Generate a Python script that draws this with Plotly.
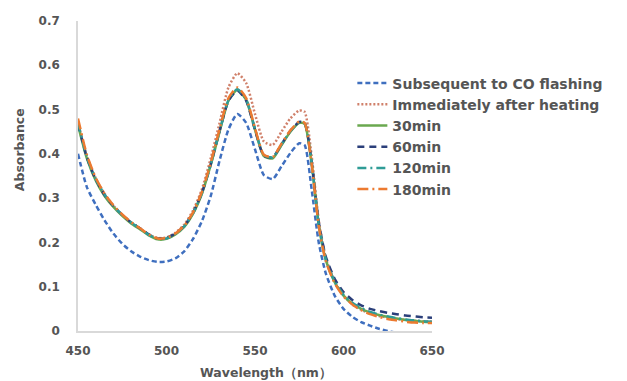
import plotly.graph_objects as go

# Wavelength grid (nm)
wavelength = [450, 455, 460, 465, 470, 475, 480, 485, 490, 495, 500, 505, 510, 515,
              520, 525, 530, 535, 540, 545, 550, 555, 560, 565, 570, 575, 578, 582,
              586, 590, 595, 600, 605, 610, 615, 620, 625, 630, 635, 640, 645, 650]

# Absorbance spectra
subsequent_co = [0.400, 0.325, 0.285, 0.250, 0.220, 0.197, 0.180, 0.168, 0.160, 0.156,
                 0.157, 0.164, 0.180, 0.208, 0.248, 0.305, 0.385, 0.455, 0.490, 0.470,
                 0.410, 0.352, 0.343, 0.372, 0.402, 0.424, 0.420, 0.320, 0.200, 0.130,
                 0.080, 0.050, 0.032, 0.020, 0.012, 0.005, 0.000, -0.004, -0.006, -0.007,
                 -0.008, -0.008]
immediately = [0.470, 0.395, 0.345, 0.310, 0.283, 0.262, 0.245, 0.232, 0.218, 0.210,
               0.211, 0.222, 0.240, 0.272, 0.320, 0.390, 0.470, 0.550, 0.582, 0.560,
               0.490, 0.428, 0.420, 0.450, 0.480, 0.498, 0.495, 0.395, 0.250, 0.165,
               0.112, 0.080, 0.060, 0.048, 0.040, 0.034, 0.030, 0.027, 0.025, 0.023,
               0.022, 0.021]
min30 = [0.465, 0.390, 0.340, 0.305, 0.280, 0.260, 0.243, 0.230, 0.216, 0.207,
         0.208, 0.218, 0.235, 0.265, 0.310, 0.375, 0.450, 0.520, 0.545, 0.522,
         0.455, 0.395, 0.390, 0.420, 0.450, 0.470, 0.468, 0.378, 0.240, 0.160,
         0.110, 0.080, 0.062, 0.050, 0.042, 0.036, 0.032, 0.028, 0.025, 0.023,
         0.021, 0.020]
min60 = [0.468, 0.392, 0.342, 0.307, 0.282, 0.262, 0.245, 0.232, 0.218, 0.209,
         0.210, 0.220, 0.237, 0.267, 0.312, 0.377, 0.452, 0.520, 0.543, 0.520,
         0.454, 0.396, 0.392, 0.422, 0.452, 0.472, 0.470, 0.382, 0.246, 0.168,
         0.118, 0.088, 0.070, 0.058, 0.050, 0.045, 0.041, 0.038, 0.035, 0.033,
         0.031, 0.030]
min120 = [0.470, 0.393, 0.343, 0.308, 0.282, 0.262, 0.245, 0.231, 0.217, 0.208,
          0.209, 0.219, 0.236, 0.266, 0.311, 0.376, 0.451, 0.521, 0.546, 0.523,
          0.456, 0.397, 0.392, 0.421, 0.451, 0.471, 0.469, 0.379, 0.242, 0.162,
          0.112, 0.082, 0.064, 0.052, 0.043, 0.037, 0.033, 0.029, 0.026, 0.024,
          0.022, 0.021]
min180 = [0.480, 0.398, 0.346, 0.310, 0.284, 0.263, 0.246, 0.232, 0.218, 0.209,
          0.210, 0.220, 0.238, 0.268, 0.314, 0.380, 0.456, 0.526, 0.550, 0.526,
          0.458, 0.398, 0.393, 0.423, 0.453, 0.473, 0.470, 0.378, 0.238, 0.158,
          0.108, 0.078, 0.060, 0.047, 0.038, 0.032, 0.027, 0.024, 0.021, 0.019,
          0.018, 0.018]

series = [
    ("Subsequent to CO flashing", subsequent_co, "#3f6fbf", "5px,3px"),
    ("Immediately after heating", immediately, "#d0806a", "2px,2px"),
    ("30min", min30, "#6aa84f", "solid"),
    ("60min", min60, "#2b3f7a", "7px,5px"),
    ("120min", min120, "#2f9c96", "9px,4px,2px,4px"),
    ("180min", min180, "#ec7a30", "11px,4px,2px,4px"),
]

fig = go.Figure()
for name, values, color, dash in series:
    fig.add_trace(go.Scatter(
        x=wavelength, y=values, name=name, mode="lines",
        line=dict(color=color, width=2.5, dash=dash, shape="spline", smoothing=0.6),
    ))

font_family = "DejaVu Sans, Noto Sans, sans-serif"
text_color = "#555555"
fig.update_layout(
    width=627, height=381,
    margin=dict(l=78, r=195, t=21, b=50),
    paper_bgcolor="white", plot_bgcolor="white",
    font=dict(family=font_family, size=12, color=text_color, weight="bold"),
    showlegend=True,
    legend=dict(
        x=0.775, y=0.85, xanchor="left", yanchor="top",
        bgcolor="rgba(0,0,0,0)",
        font=dict(size=14, color=text_color, weight="bold"),
        itemwidth=30, tracegroupgap=0,
    ),
    xaxis=dict(
        range=[450, 650], tickvals=[450, 500, 550, 600, 650],
        showgrid=False, zeroline=False, showline=True, linecolor="#d9d9d9", linewidth=1.5,
        ticks="", ticklabelstandoff=8, tickfont=dict(size=12, weight="bold"),
    ),
    yaxis=dict(
        range=[0, 0.7], tickvals=[0, 0.1, 0.2, 0.3, 0.4, 0.5, 0.6, 0.7],
        ticktext=["0", "0.1", "0.2", "0.3", "0.4", "0.5", "0.6", "0.7"],
        showgrid=False, zeroline=False, showline=True, linecolor="#d9d9d9", linewidth=1.5,
        ticks="", ticklabelstandoff=14, tickfont=dict(size=12, weight="bold"),
    ),
    annotations=[
        dict(text="Wavelength（nm）", xref="paper", yref="paper",
             x=0.53, y=-0.135, xanchor="center", yanchor="middle",
             showarrow=False, font=dict(size=12.5, color=text_color, weight="bold")),
        dict(text="Absorbance", xref="paper", yref="paper",
             x=-0.165, y=0.585, xanchor="center", yanchor="middle", textangle=-90,
             showarrow=False, font=dict(size=12.5, color=text_color, weight="bold")),
    ],
)

fig.write_html("out.html")
